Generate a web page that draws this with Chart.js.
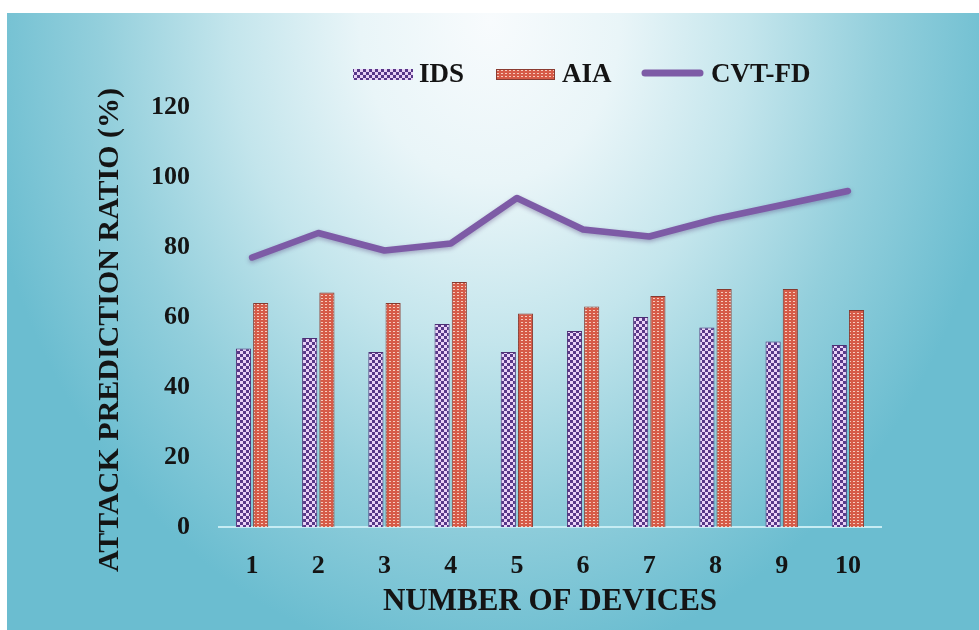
<!DOCTYPE html>
<html>
<head>
<meta charset="utf-8">
<title>Attack Prediction Ratio</title>
<script src="https://cdn.jsdelivr.net/npm/chart.js@4/dist/chart.umd.min.js"></script>
<style>
  html, body { margin: 0; padding: 0; background: #ffffff; }
  #wrap { width: 979px; height: 630px; position: relative; }
  canvas { display: block; }
</style>
</head>
<body>
<div id="wrap"><canvas id="chart" width="979" height="630"></canvas></div>
<script>
// Categories and series values
const devices = ['1', '2', '3', '4', '5', '6', '7', '8', '9', '10'];
const idsValues = [51, 54, 50, 58, 50, 56, 60, 57, 53, 52];
const aiaValues = [64, 67, 64, 70, 61, 63, 66, 68, 68, 62];
const cvtfdValues = [77, 84, 79, 81, 94, 85, 83, 88, 92, 96];
const seriesNames = ['IDS', 'AIA', 'CVT-FD'];
const yTickMin = 0;
const yTickMax = 120;
const yTickStep = 20;
const xTitle = 'NUMBER OF DEVICES';
const yTitle = 'ATTACK PREDICTION RATIO (%)';

const SERIF = '"Liberation Serif", "Times New Roman", serif';

// Checkerboard fill for the IDS bars
function makeCheckerPattern() {
  const c = document.createElement('canvas');
  c.width = 6; c.height = 6;
  const g = c.getContext('2d');
  g.fillStyle = '#ead2f6';
  g.fillRect(0, 0, 6, 6);
  g.fillStyle = '#583888';
  g.fillRect(0, 0, 3, 3);
  g.fillRect(3, 3, 3, 3);
  return g.createPattern(c, 'repeat');
}

// Dotted red fill for the AIA bars
function makeDotPattern() {
  const c = document.createElement('canvas');
  c.width = 4; c.height = 3;
  const g = c.getContext('2d');
  g.fillStyle = '#d65b48';
  g.fillRect(0, 0, 4, 3);
  g.fillStyle = '#f6cbbd';
  g.fillRect(1, 1, 2, 1);
  return g.createPattern(c, 'repeat');
}

const idsFill = makeCheckerPattern();
const aiaFill = makeDotPattern();
const lineColor = '#7d5ba6';

// Soft blue backdrop, pale at the top centre and teal towards the edges
const backdrop = {
  id: 'backdrop',
  beforeDraw(chart) {
    const ctx = chart.ctx;
    const cx = 490, cy = 20, rx = 520, ry = 650;
    ctx.save();
    ctx.translate(cx, cy);
    ctx.scale(1, ry / rx);
    const grad = ctx.createRadialGradient(0, 0, 0, 0, 0, rx);
    grad.addColorStop(0.0, '#f8fbfd');
    grad.addColorStop(0.25, '#e9f5f8');
    grad.addColorStop(0.5, '#c3e5ec');
    grad.addColorStop(0.75, '#93cfdc');
    grad.addColorStop(1.0, '#6bbdd0');
    ctx.fillStyle = grad;
    const k = rx / ry;
    ctx.fillRect(7 - cx, (13 - cy) * k, 979 - 7, (630 - 13) * k);
    ctx.restore();
  }
};

// Light drop shadow under the CVT-FD line
const lineShadow = {
  id: 'lineShadow',
  beforeDatasetDraw(chart, args) {
    if (chart.data.datasets[args.index].type !== 'line') return;
    const ctx = chart.ctx;
    ctx.save();
    ctx.shadowColor = 'rgba(70, 40, 110, 0.35)';
    ctx.shadowBlur = 4;
    ctx.shadowOffsetY = 2;
  },
  afterDatasetDraw(chart, args) {
    if (chart.data.datasets[args.index].type !== 'line') return;
    chart.ctx.restore();
  }
};

// Vertical axis title, set a little below the plot's mid-height
const yAxisTitle = {
  id: 'yAxisTitle',
  afterDraw(chart) {
    const ctx = chart.ctx;
    ctx.save();
    ctx.translate(110, 330);
    ctx.rotate(-Math.PI / 2);
    ctx.font = 'bold 30px ' + SERIF;
    ctx.fillStyle = '#141414';
    ctx.textAlign = 'center';
    ctx.textBaseline = 'middle';
    ctx.fillText(yTitle, 0, 0);
    ctx.restore();
  }
};

// Legend row above the plot
const legendRow = {
  id: 'legendRow',
  afterDraw(chart) {
    const ctx = chart.ctx;
    const ds = chart.data.datasets;
    const cy = 74;
    ctx.save();
    ctx.font = 'bold 27px ' + SERIF;
    ctx.textBaseline = 'middle';
    ctx.textAlign = 'left';

    // IDS swatch
    ctx.fillStyle = ds[0].backgroundColor;
    ctx.fillRect(353, cy - 5, 60, 11);
    // AIA swatch
    ctx.fillStyle = ds[1].backgroundColor;
    ctx.fillRect(496, cy - 5, 59, 11);
    ctx.strokeStyle = '#8a3c32';
    ctx.lineWidth = 1;
    ctx.strokeRect(496.5, cy - 4.5, 58, 10);
    // CVT-FD swatch
    ctx.strokeStyle = ds[2].borderColor;
    ctx.lineWidth = 7;
    ctx.lineCap = 'round';
    ctx.beginPath();
    ctx.moveTo(645, cy - 1);
    ctx.lineTo(700, cy - 1);
    ctx.stroke();

    ctx.fillStyle = '#141414';
    ctx.fillText(ds[0].label, 419, cy + 1);
    ctx.fillText(ds[1].label, 562, cy + 1);
    ctx.fillText(ds[2].label, 711, cy + 1);
    ctx.restore();
  }
};

new Chart(document.getElementById('chart'), {
  data: {
    labels: devices,
    datasets: [
      {
        type: 'bar',
        label: seriesNames[0],
        data: idsValues,
        backgroundColor: idsFill,
        borderColor: '#4d2f74',
        borderWidth: 1,
        categoryPercentage: 0.52,
        barPercentage: 0.88,
        order: 1
      },
      {
        type: 'bar',
        label: seriesNames[1],
        data: aiaValues,
        backgroundColor: aiaFill,
        borderColor: '#86392f',
        borderWidth: 1,
        categoryPercentage: 0.52,
        barPercentage: 0.88,
        order: 1
      },
      {
        type: 'line',
        label: seriesNames[2],
        data: cvtfdValues,
        borderColor: lineColor,
        backgroundColor: lineColor,
        borderWidth: 6.5,
        borderCapStyle: 'round',
        borderJoinStyle: 'round',
        pointRadius: 0,
        pointHoverRadius: 0,
        tension: 0,
        fill: false,
        order: 0
      }
    ]
  },
  options: {
    responsive: false,
    animation: false,
    devicePixelRatio: 1,
    layout: { padding: { left: 89, right: 98, top: 107, bottom: 0 } },
    plugins: {
      legend: { display: false },
      tooltip: { enabled: false }
    },
    scales: {
      x: {
        type: 'category',
        offset: true,
        grid: { display: false, drawTicks: false },
        border: { display: true, color: '#c6ecf3', width: 2 },
        ticks: {
          color: '#141414',
          font: { family: SERIF, size: 26, weight: 'bold' },
          padding: 24
        },
        title: {
          display: true,
          text: xTitle,
          color: '#141414',
          font: { family: SERIF, size: 31, weight: 'bold' },
          padding: { top: 4, bottom: 9 }
        },
        afterFit(scale) { scale.height = 103; }
      },
      y: {
        min: yTickMin,
        max: yTickMax,
        grid: { display: false, drawTicks: false },
        border: { display: false },
        ticks: {
          stepSize: yTickStep,
          color: '#141414',
          font: { family: SERIF, size: 26, weight: 'bold' },
          padding: 29
        },
        title: { display: false, text: yTitle },
        afterFit(scale) { scale.width = 130; }
      }
    }
  },
  plugins: [backdrop, lineShadow, yAxisTitle, legendRow]
});
</script>
</body>
</html>
